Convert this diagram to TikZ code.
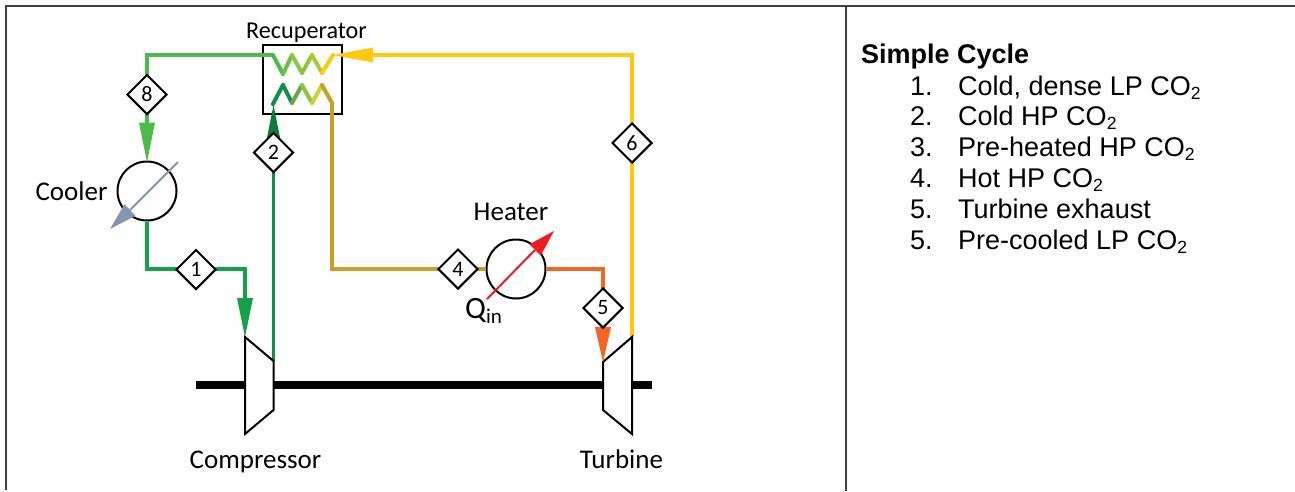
\documentclass[tikz,border=0pt]{standalone}
\usepackage{fontspec}
\setmainfont{Carlito}
\newfontfamily\arialf{Liberation Sans}
\usetikzlibrary{calc,shapes.geometric}
\definecolor{gA}{HTML}{4DBB4A}
\definecolor{gB}{HTML}{17A04A}
\definecolor{gC}{HTML}{108F46}
\definecolor{gD}{HTML}{0F7A3C}
\definecolor{gold}{HTML}{C99F26}
\definecolor{yel}{HTML}{FFC90E}
\definecolor{ora}{HTML}{F26522}
\definecolor{steel}{HTML}{8496B0}
\definecolor{redq}{HTML}{ED1C24}
\definecolor{frame}{HTML}{404040}
\definecolor{z0}{HTML}{6FBE44}
\definecolor{z1}{HTML}{8CC63F}
\definecolor{z2}{HTML}{A8CC33}
\definecolor{z3}{HTML}{C9D42E}
\definecolor{z5}{HTML}{6AA84F}
\tikzset{
  x=1pt,y=-1pt,
  pipe/.style={line width=3.6pt,line join=miter},
  zig/.style={line width=4pt,line cap=round},
  statept/.style={draw=black,fill=white,line width=2pt,shape=diamond,minimum size=40pt,inner sep=0pt,font=\fontsize{22}{22}\selectfont},
  hx/.style={draw=black,fill=white,line width=2pt,shape=circle,minimum size=59pt,inner sep=0pt},
  mach/.style={draw=black,fill=white,line width=2pt,line join=miter},
  lab/.style={font=\fontsize{27}{27}\selectfont,inner sep=0pt,anchor=base},
  listn/.style={font=\arialf\fontsize{27}{27}\selectfont,inner sep=0pt,anchor=base west},
}
\newcommand{\headfill}[4]{\fill[#1] (#2) -- ($(#3)!#4pt!90:(#2)$) -- ($(#3)!#4pt!-90:(#2)$) -- cycle;}
\begin{document}
\begin{tikzpicture}
\useasboundingbox (0,0) rectangle (1295,491);
\fill[white] (0,0) rectangle (1295,491);
% frame
\draw[frame,line width=1.8pt] (6,490) -- (6,6) -- (1295,6);
\draw[frame,line width=1.6pt] (846,6) -- (846,491);

% named places
\coordinate (cTL) at (245,337); \coordinate (cBL) at (245,434);
\coordinate (cTR) at (273.5,361); \coordinate (cBR) at (273.5,410);
\coordinate (tTL) at (603,362); \coordinate (tBL) at (603,410);
\coordinate (tTR) at (632,337); \coordinate (tBR) at (632,434);
\coordinate (shaftL) at (196,385); \coordinate (shaftR) at (652,385);
\coordinate (hotIn) at (333,55); \coordinate (hotElb) at (632,55);
\coordinate (coldOut) at (273,55); \coordinate (coolElb) at (147,55);
\coordinate (coldIn) at (273,104);
\coordinate (presOut) at (332,103);
\coordinate (d4Elb) at (332,269);
\coordinate (e1a) at (147,269); \coordinate (e1b) at (245,269);
\coordinate (e5) at (603,269);

% recuperator box
\node[draw=black,line width=2pt,minimum width=79pt,minimum height=69pt,inner sep=0pt] (recup) at (302.5,79.5) {};

% nodes
\node[hx] (cooler) at (147,191) {};
\node[hx] (heater) at (516,269) {};

% pipes
\draw[pipe,gA] (coldOut) -- (coolElb) -- (147,130);
\draw[pipe,yel] (tTR) -- (hotElb) -- (370,55);
\draw[pipe,gC] (cTR) -- (273.5,135);
\draw[pipe,gold] (presOut) -- (d4Elb) -- (450,269);
\draw[pipe,gold] (470,269) -- (heater.west);
\draw[pipe,ora] (heater.east) -- (e5) -- (603,295);
\draw[pipe,gB] (cooler.south) -- (e1a) -- (e1b) -- (245,305);

% recuperator coils
\draw[zig,gA] (coldOut) -- (283,74);
\draw[zig,z0] (283,74) -- (292,55);
\draw[zig,z1] (292,55) -- (302,73);
\draw[zig,z1] (302,73) -- (312,55);
\draw[zig,z2] (312,55) -- (322,73);
\draw[zig,yel] (322,73) -- (hotIn);
\draw[zig,gC] (coldIn) -- (283,85);
\draw[zig,gC] (283,85) -- (292,103);
\draw[zig,z5] (292,103) -- (302,85);
\draw[zig,z1] (302,85) -- (312,103);
\draw[zig,z3] (312,103) -- (322,85);
\draw[zig,gold] (322,85) -- (presOut);

% shaft
\draw[black,line width=8pt] (shaftL) -- (shaftR);

% machines
\draw[mach] (cTL) -- (cTR) -- (cBR) -- (cBL) -- cycle;
\draw[mach] (tTL) -- (tTR) -- (tBR) -- (tBL) -- cycle;

% arrowheads
\fill[gA] (147,162) -- (139,122.7) -- (155,122.7) -- cycle;
\fill[gB] (245,337) -- (237,298) -- (253,298) -- cycle;
\fill[gD] (273.5,105) -- (265.5,145) -- (281.5,145) -- cycle;
\fill[ora] (603,362) -- (595,327) -- (611,327) -- cycle;
\fill[yel] (hotIn) -- (373,47.5) -- (373,62.5) -- cycle;

% diamonds
\node[statept] (p8) at (147,94.5) {8};
\node[statept] (p2) at (273.5,152.5) {2};
\node[statept] (p6) at (632,143) {6};
\node[statept] (p1) at (196,269.5) {1};
\node[statept] (p4) at (458,269) {4};
\node[statept] (p5) at (603,308) {5};

% heat arrows
\coordinate (cTail) at (178,162); \coordinate (cTip) at (110,229); \coordinate (cBase) at (130,210);
\draw[steel,line width=2pt] (cTail) -- (cBase);
\headfill{steel}{cTip}{cBase}{8}
\coordinate (qTail) at (487,299); \coordinate (qTip) at (554,231); \coordinate (qBase) at (535,250);
\draw[redq,line width=2pt] (qTail) -- (qBase);
\headfill{redq}{qTip}{qBase}{8}

% labels
\node[lab,font=\fontsize{24.2}{24.2}\selectfont] (lR) at (306.5,38) {Recuperator};
\node[lab] (lCo) at (71.5,200) {Cooler};
\node[lab] (lH) at (511,220) {Heater};
\node[lab] (lCp) at (255.5,468) {Compressor};
\node[lab] (lT) at (621.5,468) {Turbine};
\node[font=\fontsize{31}{31}\selectfont,inner sep=0pt,anchor=base west] (lQ) at (465,318) {Q\raisebox{-5pt}{\fontsize{21}{21}\selectfont in}};

% list
\node[listn,font=\arialf\bfseries\fontsize{27}{27}\selectfont] (tt) at (861,63) {Simple Cycle};
\newcommand{\cotwo}{CO\raisebox{-4pt}{\fontsize{17.6}{17.6}\selectfont 2}}
\node[listn] (n1) at (910,95) {1.};
\node[listn] (t1) at (958,95) {Cold, dense LP \cotwo};
\node[listn] (n2) at (910,125.5) {2.};
\node[listn] (t2) at (958,125.5) {Cold HP \cotwo};
\node[listn] (n3) at (910,156) {3.};
\node[listn] (t3) at (958,156) {Pre-heated HP \cotwo};
\node[listn] (n4) at (910,187) {4.};
\node[listn] (t4) at (958,187) {Hot HP \cotwo};
\node[listn] (n5) at (910,218) {5.};
\node[listn] (t5) at (958,218) {Turbine exhaust};
\node[listn] (n6) at (910,249) {5.};
\node[listn] (t6) at (958,249) {Pre-cooled LP \cotwo};
\end{tikzpicture}
\end{document}
